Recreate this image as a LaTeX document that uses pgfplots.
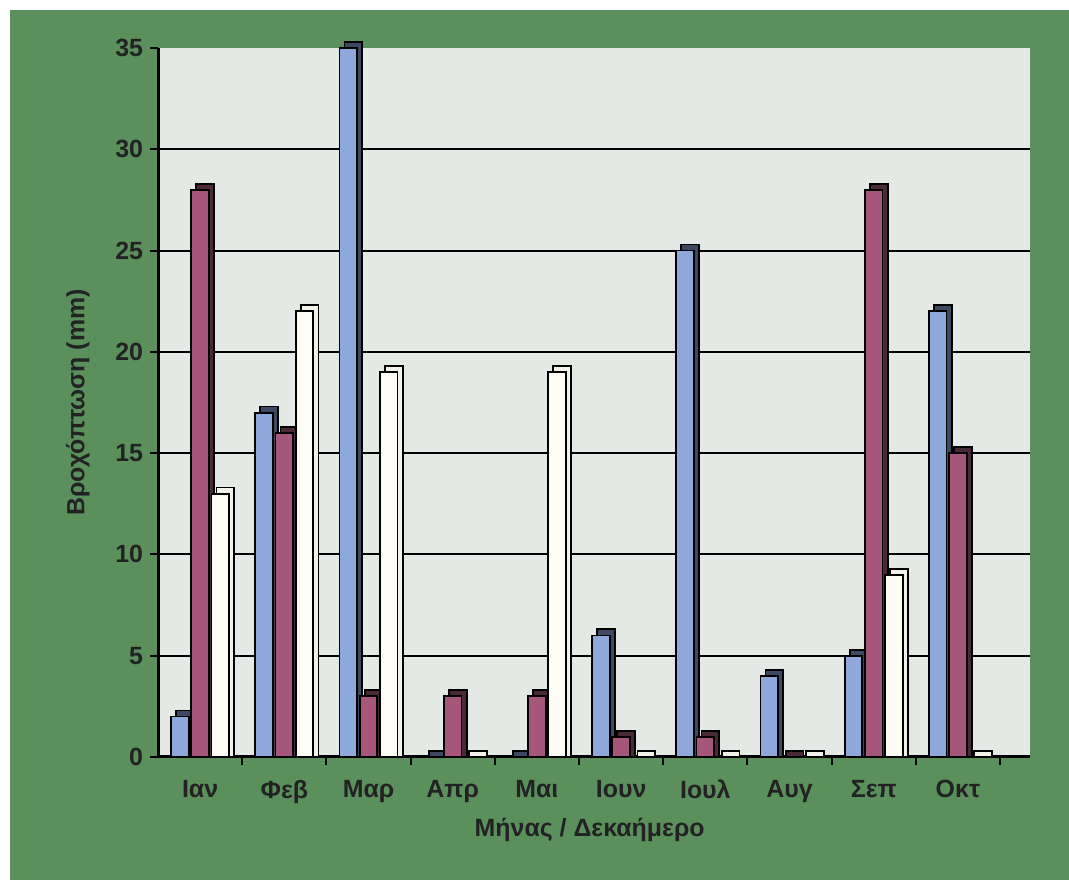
\documentclass[border=0pt]{standalone}
\usepackage{fontspec}
\setmainfont{Liberation Sans}
\usepackage{pgfplots}
\pgfplotsset{compat=1.18}
\usepackage{pgfplotstable}

\definecolor{framegreen}{HTML}{5B8F5C}
\definecolor{wall}{HTML}{E4E9E5}
\definecolor{dekA}{HTML}{8EA8DC}
\definecolor{dekAside}{HTML}{3E4862}
\definecolor{dekB}{HTML}{A6567A}
\definecolor{dekBside}{HTML}{4A2A36}
\definecolor{dekC}{HTML}{FDFDF6}
\definecolor{dekCside}{HTML}{F2F2EA}
\definecolor{ink}{HTML}{222222}

% rainfall (mm) per ten-day period: a = 1st, b = 2nd, c = 3rd dekad
\pgfplotstableread{
m  a  b  c
0  2  28 13
1  17 16 22
2  35 3  19
3  0  3  0
4  0  3  19
5  6  1  0
6  25 1  0
7  4  0  0
8  5  28 9
9  22 15 0
}\rain

\begin{document}
\begin{tikzpicture}
\fill[white] (0,0) rectangle (534.5bp,440bp);
\fill[framegreen] (5bp,0) rectangle (534.5bp,435bp);
\begin{axis}[
  at={(79bp,61.5bp)}, anchor=south west,
  scale only axis, width=436bp, height=354.5bp,
  xmin=-0.5, xmax=9.856, ymin=0, ymax=35,
  clip=false,
  axis background/.style={fill=wall},
  axis x line*=bottom, axis y line*=left,
  axis line style={line width=1.5bp, black, -},
  xtick={0,...,9},
  xticklabels={Ιαν,Φεβ,Μαρ,Απρ,Μαι,Ιουν,Ιουλ,Αυγ,Σεπ,Οκτ},
  major x tick style={draw=none},
  minor xtick={0.5,1.5,...,9.5},
  minor x tick style={line width=1bp, black},
  minor tick length=4bp,
  ytick={0,5,...,30},
  extra y ticks={35},
  extra y tick style={ymajorgrids=false},
  major y tick style={line width=1bp, black},
  major tick length=4bp,
  tick align=outside,
  ymajorgrids,
  grid style={line width=1bp, black},
  tick label style={font=\bfseries\fontsize{12.5}{14}\selectfont, text=ink},
  /pgf/number format/assume math mode=true,
  xticklabel style={yshift=-4bp},
  xlabel={Μήνας / Δεκαήμερο},
  ylabel={Βροχόπτωση (mm)},
  label style={font=\bfseries\fontsize{12.5}{14}\selectfont, text=ink},
  xlabel style={at={(axis description cs:0.495,-0.103)}, anchor=center},
  ylabel style={at={(axis description cs:-0.092,0.5)}, anchor=center},
  every axis plot/.append style={ybar, bar width=0.21, draw=black, line width=0.9bp},
]
% first dekad: side/top face, then front
\addplot[bar shift=-0.18, fill=dekAside] table[x=m, y expr=\thisrow{a}+0.3]{\rain};
\addplot[bar shift=-0.24, fill=dekA] table[x=m, y=a]{\rain};
% second dekad
\addplot[bar shift=0.06, fill=dekBside] table[x=m, y expr=\thisrow{b}+0.3]{\rain};
\addplot[bar shift=0.0, fill=dekB] table[x=m, y=b]{\rain};
% third dekad
\addplot[bar shift=0.30, fill=dekCside] table[x=m, y expr=\thisrow{c}+0.3]{\rain};
\addplot[bar shift=0.24, fill=dekC] table[x=m, y=c]{\rain};
\end{axis}
\end{tikzpicture}
\end{document}
